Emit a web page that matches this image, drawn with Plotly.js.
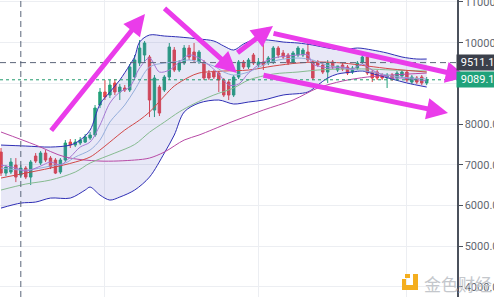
<!DOCTYPE html>
<html>
<head>
<meta charset="utf-8">
<script src="https://cdn.plot.ly/plotly-3.0.1.min.js"></script>
<style>html,body{margin:0;padding:0;background:#fff;}#chart{width:494px;height:297px;}</style>
</head>
<body>
<div id="chart"></div>
<script>
// ---- data (daily candles) ----
const startDate = '2020-04-10';
const opens  = [7314,6798,6823,6995,6749,6921,6700,7216,7044,7290,7167,7118,6823,7118,7560,7486,7536,7560,7658,7732,8469,8789,8715,9010,8789,8887,8838,9157,9501,9698,9649,8346,8911,8838,9157,9820,9329,9501,9870,9771,9526,9501,9255,9280,9255,9083,9034,8715,9157,9526,9403,9698,9452,9526,9501,9526,9870,9747,9698,9526,9698,9698,9771,9526,9526,9452,9280,9526,9329,9452,9403,9280,9378,9526,9649,9280,9280,9206,9133,9206,9133,9182,9280,9034,9133,9157,9010];
const highs  = [7413,6995,7167,7167,6995,6970,7118,7290,7339,7364,7216,7167,7167,7609,7634,7634,7683,7757,7806,8469,8887,9083,9083,9108,8985,8960,9476,9698,10066,10041,9698,9206,8960,9206,9992,9894,9575,9943,9943,9992,9820,9575,9329,9329,9304,9133,9083,9206,9575,9575,9624,9747,9624,10066,9673,9919,9919,9820,9747,9796,9919,9870,9992,9575,9575,9501,9575,9575,9427,9501,9452,9427,9550,9698,9698,9329,9329,9255,9255,9255,9304,9329,9329,9206,9182,9206,9157];
const lows   = [6725,6725,6774,6577,6676,6651,6504,7044,6995,7069,6897,6774,6774,7069,7413,7437,7486,7536,7609,7683,8395,8592,8641,8715,8592,8789,8789,9083,9427,9501,8174,8174,8199,8789,9083,9280,9280,9452,9575,9526,9477,9083,9083,9108,8789,8666,8592,8666,9108,9354,9354,9452,9403,9329,9452,9477,9624,9599,9452,9477,9649,9649,9526,9083,9403,9231,9010,9354,9280,9304,9206,9231,9329,9477,9206,9034,9083,9083,8887,9059,9083,9133,9034,8985,8985,8960,8960];
const closes = [6798,6946,7069,6700,6921,6700,7069,7093,7290,7118,6946,6798,7118,7536,7486,7560,7609,7683,7732,8395,8789,8666,8960,8789,8911,8838,9403,9575,9870,9992,8592,9133,8273,9157,9894,9329,9501,9870,9649,9575,9771,9133,9133,9157,9083,8715,8715,9157,9526,9403,9575,9501,9526,9452,9624,9870,9698,9649,9501,9747,9870,9820,9575,9133,9452,9280,9501,9403,9427,9354,9255,9378,9501,9649,9255,9133,9133,9133,9206,9108,9255,9280,9083,9157,9034,9010,9089.1];

// indicator lines read at sample candle indices
const bbUpperIdx = [0,5,10,14,16,18,20,22,24,26,27,28,30,33,36,40,43,45,47,49,51,54,57,60,63,66,69,72,75,78,81,84,86];
const bbUpperVal = [7486,7462,7437,7486,7609,7855,8494,8789,9083,9452,9649,10017,10189,10164,10140,10091,10042,9919,9820,9968,10066,10066,10017,9992,9943,9870,9820,9870,9820,9747,9649,9599,9599];
const bbLowerIdx = [0,4,7,10,14,17,18,20,22,24,27,30,33,35,37,40,44,47,50,53,57,62,64,66,68,71,73,76,79,82,86];
const bbLowerVal = [5938,6061,6086,6184,6184,6381,6454,6258,6135,6209,6381,6700,7290,7732,8297,8518,8592,8494,8543,8592,8715,8789,8960,9133,9231,9280,9304,9206,9108,9010,8911];
const midIdx = [0,5,10,15,18,20,22,25,28,30,33,35,38,40,45,50,55,60,64,69,74,79,86];
const midVal = [6676,6798,6921,7069,7192,7364,7560,7855,8101,8297,8690,8936,9157,9255,9304,9329,9427,9501,9526,9501,9427,9354,9280];
const ma30Idx = [0,5,10,15,18,23,27,30,33,36,39,43,47,50,55,60,64,69,74,79,86];
const ma30Val = [6381,6528,6627,6823,7044,7290,7500,7800,8050,8300,8500,8715,8887,9083,9231,9280,9329,9354,9354,9329,9304];
const ma60Idx = [0,7,13,20,27,30,33,37,40,46,53,59,64,69,74,79,86];
const ma60Val = [7806,7486,7192,7093,7118,7167,7314,7609,7732,8027,8346,8592,8887,9059,9157,9206,9255];
const ma10Idx = [0,5,10,13,15,18,20,22,25,27,30,33,35,38,40,43,45,47,50,53,56,60,63,65,69,72,75,79,83,86];
const ma10Val = [6921,6872,6970,7044,7192,7364,7609,8052,8469,8838,9403,9501,9526,9575,9526,9427,9280,9206,9280,9452,9575,9624,9575,9477,9378,9329,9280,9182,9133,9108];
const ma5Idx = [0,3,5,8,10,12,14,16,18,20,22,24,26,28,30,32,34,36,38,40,42,44,46,48,50,52,54,56,58,60,62,63,65,67,69,71,73,75,77,79,81,83,86];
const ma5Val = [6995,6921,6847,6970,7069,6995,7192,7437,7560,7978,8518,8789,8911,9378,9624,9280,9329,9526,9698,9624,9452,9231,8960,8985,9255,9452,9575,9649,9673,9698,9698,9477,9403,9378,9403,9354,9477,9329,9206,9133,9133,9108,9059];

const yTicks = [4000,5000,6000,7000,8000,9000,10000,11000];
const crossPrice = 9511.1;
const lastPrice = 9089.1;
const crossIdx = 4;
const monthStarts = ['2020-05-01','2020-06-01','2020-07-01'];

// ---- build ----
function dayStr(i){ const p = startDate.split('-').map(Number); const d = new Date(Date.UTC(p[0],p[1]-1,p[2]+i)); return d.toISOString().slice(0,10); }
const dates = opens.map((_,i)=>dayStr(i));
const W = 457, H = 297;
const px = v => v / W, py = v => 1 - v / H;

function line(idx, val, color, extra){
  return Object.assign({type:'scatter', mode:'lines', x: idx.map(dayStr), y: val,
    line:{color:color, width:1, shape:'spline', smoothing:0.9}, hoverinfo:'skip'}, extra||{});
}

const traces = [
  line(bbLowerIdx, bbLowerVal, '#2f2fb5'),
  line(bbUpperIdx, bbUpperVal, '#2f2fb5', {fill:'tonexty', fillcolor:'rgba(95,95,200,0.14)'}),
  line(ma60Idx, ma60Val, '#b84aa6'),
  line(ma30Idx, ma30Val, '#86bb90'),
  line(midIdx, midVal, '#d24848'),
  line(ma10Idx, ma10Val, '#95aedb'),
  line(ma5Idx, ma5Val, '#a577d3'),
  {type:'candlestick', x:dates, open:opens, high:highs, low:lows, close:closes,
   increasing:{line:{color:'#23a07a', width:1}, fillcolor:'#23a07a'},
   decreasing:{line:{color:'#e2444a', width:1}, fillcolor:'#e2444a'},
   whiskerwidth:0, hoverinfo:'skip'}
];

const font = 'Roboto, "Liberation Sans", Arial, sans-serif';
const arrowColor = '#ea3cea';
function arrow(hx, hy, tx, ty){
  return {xref:'paper', yref:'paper', x:px(hx), y:py(hy), ax:tx-hx, ay:ty-hy, axref:'pixel', ayref:'pixel',
    text:'', showarrow:true, arrowhead:2, arrowsize:0.85, arrowwidth:5, arrowcolor:arrowColor, standoff:0};
}

const annotations = [
  arrow(145,14, 50,132),
  arrow(237,73, 163,7),
  arrow(273,26, 236,54),
  arrow(467,77, 272,33),
  arrow(448,113, 262,75),
  {xref:'paper', x:1, xanchor:'left', yref:'y', y:crossPrice, yanchor:'middle', text:'&nbsp;9511.1', showarrow:false,
   bgcolor:'#3b404b', borderpad:1, xshift:-1, font:{family:font, size:11, color:'#ffffff'}},
  {xref:'paper', x:1, xanchor:'left', yref:'y', y:lastPrice, yanchor:'middle', text:'&nbsp;9089.1', showarrow:false,
   bgcolor:'#1fa27a', borderpad:1, xshift:-1, font:{family:font, size:11, color:'#ffffff'}},
  {xref:'paper', yref:'paper', x:px(422), y:py(283), xanchor:'left', yanchor:'middle', text:'金色财经', showarrow:false,
   font:{family:'"Noto Sans CJK SC", sans-serif', size:17, color:'#c4c7cc'}}
];

const logo = '#f4ae1f';
function rect(x0,y0,x1,y1){ return {type:'rect', xref:'paper', yref:'paper', x0:px(x0), x1:px(x1), y0:py(y0), y1:py(y1), fillcolor:logo, line:{width:0}}; }

const shapes = [
  {type:'line', xref:'paper', x0:0, x1:1, yref:'y', y0:crossPrice, y1:crossPrice, line:{color:'#5b667a', width:1, dash:'6px,4px'}},
  {type:'line', xref:'x', x0:dayStr(crossIdx), x1:dayStr(crossIdx), yref:'paper', y0:0, y1:1, line:{color:'#5b667a', width:1, dash:'6px,4px'}},
  {type:'line', xref:'paper', x0:0, x1:1, yref:'y', y0:lastPrice, y1:lastPrice, line:{color:'#1f9a6c', width:1, dash:'dot'}},
  rect(413,274,418,290), rect(402,285,418,290), rect(402,279,406,290), rect(405,274,410,278)
];

const layout = {
  width:494, height:297, margin:{l:0, r:37, t:0, b:0},
  paper_bgcolor:'#ffffff', plot_bgcolor:'#ffffff', showlegend:false,
  xaxis:{type:'date', range:['2020-04-09 19:09','2020-07-11 02:53'], tickvals:monthStarts, showticklabels:false,
    showgrid:true, gridcolor:'#eceef2', gridwidth:1, zeroline:false, rangeslider:{visible:false}, fixedrange:true, automargin:false},
  yaxis:{side:'right', range:[3754,11049], tickvals:yTicks, tickformat:'.1f', showgrid:true, gridcolor:'#eceef2',
    zeroline:false, showline:true, linecolor:'#4b515c', linewidth:1.5, ticks:'outside', ticklen:4, tickcolor:'#4b515c',
    ticklabeloverflow:'allow', tickfont:{family:font, size:11, color:'#62676f'}, automargin:false, fixedrange:true},
  annotations:annotations, shapes:shapes
};

Plotly.newPlot('chart', traces, layout, {staticPlot:true, displayModeBar:false});
</script>
</body>
</html>
